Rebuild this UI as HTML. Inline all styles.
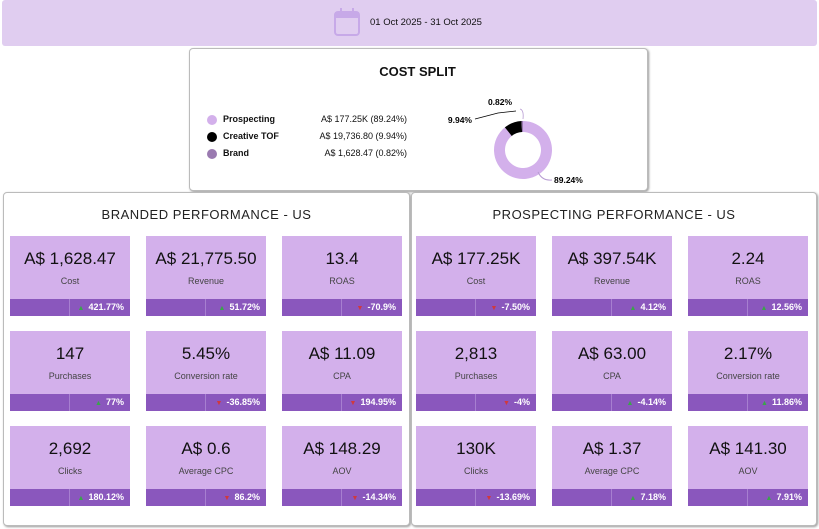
<!DOCTYPE html>
<html><head><meta charset="utf-8"><style>
body{margin:0;width:819px;height:529px;background:#fff;font-family:"Liberation Sans",sans-serif;position:relative;overflow:hidden}
.abs{position:absolute}
.panel{position:absolute;background:#fff;border:1px solid #bbb;border-radius:4px;box-shadow:1px 1px 2px #999}
.card{position:absolute;width:120px;height:80px;background:#d3b0eb}
.card .v{position:absolute;top:13px;width:100%;text-align:center;font-size:17px;color:#111}
.card .l{position:absolute;top:40px;width:100%;text-align:center;font-size:9px;color:#444}
.card .bar{position:absolute;left:0;top:63px;width:120px;height:17px;background:#8a57bd}
.card .bar .sep{position:absolute;left:59px;top:0;width:1px;height:17px;background:#a77fd0}
.card .bar .d{position:absolute;right:6px;top:3px;font-size:9px;color:#fff;font-weight:bold}
.up{color:#3aa54a;font-size:7px;margin-right:4px}
.dn{color:#d0393d;font-size:7px;margin-right:4px}
.title{position:absolute;top:14px;width:100%;text-align:center;font-size:13px;letter-spacing:0.5px;color:#222}
</style></head><body>
<div class="abs" style="left:2px;top:0;width:815px;height:46px;background:#e0cdf0;border-radius:3px">
 <svg class="abs" style="left:331px;top:7px" width="28" height="30"><rect x="2" y="5" width="24" height="23" rx="3" fill="none" stroke="#c7a9e8" stroke-width="2"/><rect x="2" y="5" width="24" height="6" fill="#c7a9e8"/><rect x="7" y="1" width="2" height="7" fill="#c7a9e8"/><rect x="19" y="1" width="2" height="7" fill="#c7a9e8"/></svg>
 <div class="abs" style="left:368px;top:17px;font-size:9.5px;color:#111">01 Oct 2025 - 31 Oct 2025</div>
</div>
<div class="panel" style="left:189px;top:48px;width:457px;height:141px">
 <div class="abs" style="left:0;top:15px;width:455px;text-align:center;font-size:13px;font-weight:bold;color:#111">COST SPLIT</div>
 <div id="legend"></div>
 <svg class="abs" style="left:230px;top:40px" width="200" height="100" id="donut"></svg>
</div>
<div class="panel" style="left:3px;top:192px;width:405px;height:332px"><div class="title">BRANDED PERFORMANCE - US</div></div>
<div class="panel" style="left:411px;top:192px;width:404px;height:332px"><div class="title">PROSPECTING PERFORMANCE - US</div></div>
<div id="cards"></div>
<script>
const labels=['Prospecting','Creative TOF','Brand'];
const amounts=['A$ 177.25K','A$ 19,736.80','A$ 1,628.47'];
const shares=[89.24,9.94,0.82];
const colors=['#d3b0eb','#000','#9a7ab0'];
const lg=document.getElementById('legend');
labels.forEach((t,i)=>{
 const r=document.createElement('div');r.className='abs';r.style.cssText=`left:17px;top:${65+i*17}px;width:200px;height:14px;font-size:9px;color:#111`;
 
 
 r.innerHTML=`<span class="abs" style="left:0;top:1px;width:10px;height:10px;border-radius:5px;background:${colors[i]}"></span><b class="abs" style="left:16px;top:0">${t}</b><span class="abs" style="right:0;top:0">${amounts[i]} (${shares[i].toFixed(2)}%)</span>`;
 lg.appendChild(r);
});
const svg=document.getElementById('donut');const NS='http://www.w3.org/2000/svg';
const cx=103,cy=61,R=29,r0=18;let a=0;const tot=shares.reduce((s,v)=>s+v,0);
function pt(rr,ang){return [cx+rr*Math.sin(ang),cy-rr*Math.cos(ang)];}
shares.forEach((v,i)=>{
 const a0=a/tot*2*Math.PI;a+=v;const a1=a/tot*2*Math.PI;const lf=a1-a0>Math.PI?1:0;
 const [x0,y0]=pt(R,a0),[x1,y1]=pt(R,a1),[x2,y2]=pt(r0,a1),[x3,y3]=pt(r0,a0);
 const p=document.createElementNS(NS,'path');
 p.setAttribute('d',`M${x0} ${y0}A${R} ${R} 0 ${lf} 1 ${x1} ${y1}L${x2} ${y2}A${r0} ${r0} 0 ${lf} 0 ${x3} ${y3}Z`);
 p.setAttribute('fill',colors[i]);
 
 
 svg.appendChild(p);
});
const lbls=[[134,94,'start'],[52,34,'end'],[80,16,'middle']];
shares.forEach((v,i)=>{const t=document.createElementNS(NS,'text');t.setAttribute('x',lbls[i][0]);t.setAttribute('y',lbls[i][1]);t.setAttribute('text-anchor',lbls[i][2]);t.setAttribute('font-size','8.5');t.setAttribute('font-weight','bold');t.textContent=v.toFixed(2)+'%';


svg.appendChild(t);});
const ln=document.createElementNS(NS,'path');ln.setAttribute('d','M55 30 L78 24 L96 22');ln.setAttribute('stroke','#000');ln.setAttribute('fill','none');ln.setAttribute('stroke-width','0.8');svg.appendChild(ln);
const ln2=document.createElementNS(NS,'path');ln2.setAttribute('d','M118 83 Q122 92 132 91');ln2.setAttribute('stroke','#b79bd2');ln2.setAttribute('fill','none');svg.appendChild(ln2);
const ln3=document.createElementNS(NS,'path');ln3.setAttribute('d','M100 20 Q104 21 103 30');ln3.setAttribute('stroke','#b79bd2');ln3.setAttribute('fill','none');ln3.setAttribute('stroke-width','0.8');svg.appendChild(ln3);
const bVals=['A$ 1,628.47','A$ 21,775.50','13.4','147','5.45%','A$ 11.09','2,692','A$ 0.6','A$ 148.29'];
const bLabs=['Cost','Revenue','ROAS','Purchases','Conversion rate','CPA','Clicks','Average CPC','AOV'];
const bDelta=['421.77%','51.72%','-70.9%','77%','-36.85%','194.95%','180.12%','86.2%','-14.34%'];
const bUp=[1,1,0,1,0,0,1,0,0];
const pVals=['A$ 177.25K','A$ 397.54K','2.24','2,813','A$ 63.00','2.17%','130K','A$ 1.37','A$ 141.30'];
const pLabs=['Cost','Revenue','ROAS','Purchases','CPA','Conversion rate','Clicks','Average CPC','AOV'];
const pDelta=['-7.50%','4.12%','12.56%','-4%','-4.14%','11.86%','-13.69%','7.18%','7.91%'];
const pUp=[0,1,1,0,1,1,0,1,1];
const cw=document.getElementById('cards');
function make(x0,vals,labs,dl,up,pref){
 vals.forEach((v,i)=>{
  const c=document.createElement('div');c.className='card';
  c.style.left=(x0+(i%3)*136)+'px';c.style.top=(236+Math.floor(i/3)*95)+'px';
  
  
  c.innerHTML=`<div class="v">${v}</div><div class="l">${labs[i]}</div><div class="bar"><div class="sep"></div><div class="d"><span class="${up[i]?'up':'dn'}">${up[i]?'▲':'▼'}</span>${dl[i]}</div></div>`;
  cw.appendChild(c);
 });
}
make(10,bVals,bLabs,bDelta,bUp,'branded');
make(416,pVals,pLabs,pDelta,pUp,'prospecting');
</script>
</body></html>
